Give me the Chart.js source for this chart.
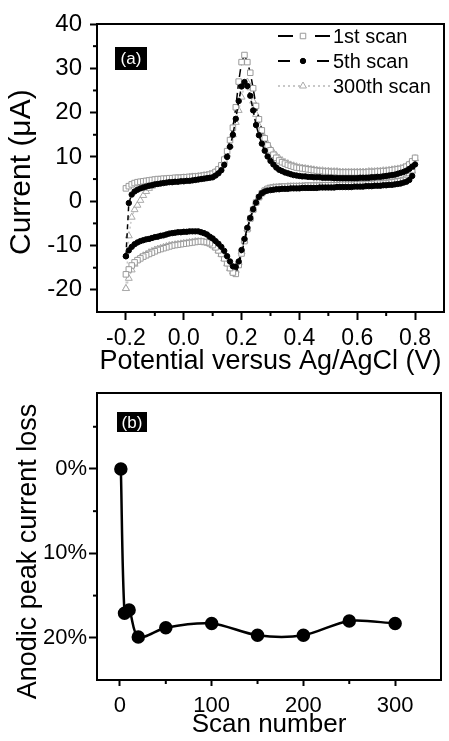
<!DOCTYPE html>
<html>
<head>
<meta charset="utf-8">
<title>CV stability</title>
<script src="https://cdn.jsdelivr.net/npm/chart.js@4.4.1/dist/chart.umd.min.js"></script>
<style>
  html, body { margin: 0; padding: 0; background: #fff; }
  #wrapA { position: absolute; left: 0; top: 0; width: 449px; height: 380px; }
  #wrapB { position: absolute; left: 0; top: 380px; width: 449px; height: 361px; }
</style>
</head>
<body>
<div id="wrapA"><canvas id="cvChart" width="449" height="380"></canvas></div>
<div id="wrapB"><canvas id="lossChart" width="449" height="361"></canvas></div>
<script>
/* panel (a): cyclic voltammograms, potential in V, current in uA */
const potential = [
  -0.20, -0.19, -0.18, -0.17, -0.16, -0.15, -0.14, -0.13, -0.12, -0.11,
  -0.10, -0.09, -0.08, -0.07, -0.06, -0.05, -0.04, -0.03, -0.02, -0.01,
   0.00,  0.01,  0.02,  0.03,  0.04,  0.05,  0.06,  0.07,  0.08,  0.09,
   0.10,  0.11,  0.12,  0.13,  0.14,  0.15,  0.16,  0.17,  0.18,  0.19,
   0.20,  0.21,  0.22,  0.23,  0.24,  0.25,  0.26,  0.27,  0.28,  0.29,
   0.30,  0.31,  0.32,  0.33,  0.34,  0.35,  0.36,  0.37,  0.38,  0.39,
   0.40,  0.41,  0.42,  0.43,  0.44,  0.45,  0.46,  0.47,  0.48,  0.49,
   0.50,  0.51,  0.52,  0.53,  0.54,  0.55,  0.56,  0.57,  0.58,  0.59,
   0.60,  0.61,  0.62,  0.63,  0.64,  0.65,  0.66,  0.67,  0.68,  0.69,
   0.70,  0.71,  0.72,  0.73,  0.74,  0.75,  0.76,  0.77,  0.78,  0.79,
   0.80
];

// forward (anodic) sweep, same order as potential
const scan1Anodic = [
  2.9, 3.4, 3.8, 4.1, 4.3, 4.4, 4.5, 4.6, 4.7, 4.8,
  4.9, 5.0, 5.0, 5.1, 5.1, 5.2, 5.2, 5.3, 5.3, 5.3,
  5.4, 5.4, 5.5, 5.5, 5.6, 5.6, 5.7, 5.8, 5.9, 6.0,
  6.2, 6.6, 7.2, 8.1, 9.4, 11.3, 13.8, 16.6, 21.2, 27.0,
  31.4, 33.0, 31.4, 29.0, 25.5, 21.5, 18.5, 16.0, 14.2, 12.6,
  11.5, 10.5, 9.8, 9.2, 8.8, 8.5, 8.2, 8.0, 7.8, 7.6,
  7.5, 7.4, 7.3, 7.2, 7.1, 7.0, 6.9, 6.8, 6.8, 6.7,
  6.7, 6.6, 6.6, 6.6, 6.5, 6.5, 6.5, 6.5, 6.5, 6.5,
  6.5, 6.5, 6.5, 6.5, 6.6, 6.6, 6.6, 6.7, 6.7, 6.8,
  6.8, 6.9, 7.0, 7.1, 7.2, 7.3, 7.5, 7.8, 8.3, 9.0,
  9.8
];
const scan5Anodic = [
  -12.4, -0.4, 1.5, 2.2, 2.6, 2.9, 3.1, 3.3, 3.5, 3.6,
  3.8, 3.9, 4.0, 4.1, 4.2, 4.3, 4.3, 4.4, 4.4, 4.5,
  4.5, 4.6, 4.6, 4.7, 4.8, 4.9, 5.0, 5.1, 5.2, 5.3,
  5.4, 5.8, 6.3, 7.0, 8.2, 10.0, 12.3, 15.0, 18.6, 22.6,
  25.9, 26.9, 26.0, 23.8, 20.5, 17.2, 14.9, 13.0, 11.4, 10.1,
  9.1, 8.3, 7.6, 7.1, 6.8, 6.5, 6.3, 6.1, 5.9, 5.8,
  5.7, 5.6, 5.6, 5.5, 5.5, 5.4, 5.4, 5.4, 5.3, 5.3,
  5.3, 5.3, 5.2, 5.2, 5.2, 5.2, 5.2, 5.2, 5.2, 5.2,
  5.2, 5.3, 5.3, 5.3, 5.3, 5.4, 5.4, 5.5, 5.5, 5.6,
  5.7, 5.8, 5.9, 6.0, 6.2, 6.4, 6.6, 6.9, 7.3, 7.8,
  8.3
];
const scan300Anodic = [
  -19.7, -7.8, -3.6, -1.9, -0.9, 0.2, 1.3, 2.2, 2.9, 3.4,
  3.8, 4.1, 4.3, 4.5, 4.7, 4.8, 4.9, 5.0, 5.1, 5.2,
  5.3, 5.3, 5.4, 5.5, 5.5, 5.6, 5.7, 5.8, 5.9, 6.1,
  6.3, 6.7, 7.2, 7.9, 9.0, 10.6, 12.6, 15.0, 17.8, 20.5,
  23.5, 26.2, 26.9, 25.6, 22.6, 19.6, 17.0, 15.5, 14.0, 12.8,
  11.8, 11.0, 10.3, 9.7, 9.2, 8.8, 8.5, 8.2, 8.0, 7.8,
  7.6, 7.5, 7.4, 7.3, 7.2, 7.1, 7.0, 6.9, 6.9, 6.8,
  6.8, 6.7, 6.7, 6.7, 6.6, 6.6, 6.6, 6.6, 6.6, 6.6,
  6.6, 6.6, 6.6, 6.6, 6.7, 6.7, 6.7, 6.8, 6.8, 6.9,
  6.9, 7.0, 7.1, 7.2, 7.3, 7.4, 7.6, 7.9, 8.3, 8.9,
  9.6
];

// reverse (cathodic) sweep, also listed in the order of potential
const scan1Cathodic = [
  -16.5, -15.4, -14.5, -13.8, -13.3, -12.9, -12.5, -12.2, -11.9, -11.6,
  -11.3, -11.0, -10.8, -10.6, -10.4, -10.2, -10.0, -9.9, -9.8, -9.7,
  -9.6, -9.5, -9.4, -9.3, -9.2, -9.1, -9.1, -9.2, -9.3, -9.5,
  -9.9, -10.4, -11.1, -11.9, -12.9, -14.0, -15.1, -16.1, -16.4, -14.4,
  -11.8, -9.0, -6.3, -3.9, -1.9, -0.3, 0.9, 1.8, 2.4, 2.8,
  3.0, 3.1, 3.2, 3.2, 3.3, 3.3, 3.3, 3.4, 3.4, 3.4,
  3.4, 3.4, 3.5, 3.5, 3.5, 3.5, 3.5, 3.5, 3.6, 3.6,
  3.6, 3.6, 3.6, 3.6, 3.7, 3.7, 3.7, 3.7, 3.7, 3.8,
  3.8, 3.8, 3.8, 3.9, 3.9, 3.9, 4.0, 4.0, 4.0, 4.1,
  4.1, 4.2, 4.3, 4.4, 4.5, 4.6, 4.8, 5.1, 5.7, 7.0,
  9.8
];
const scan5Cathodic = [
  -12.4, -11.1, -10.3, -9.7, -9.3, -9.0, -8.8, -8.6, -8.5, -8.3,
  -8.1, -8.0, -7.8, -7.7, -7.5, -7.3, -7.2, -7.1, -7.0, -7.0,
  -6.9, -6.9, -6.8, -6.8, -6.8, -6.8, -7.0, -7.2, -7.5, -8.0,
  -8.4, -9.0, -9.6, -10.3, -11.2, -12.4, -13.6, -14.7, -14.8, -13.6,
  -11.0, -8.5, -6.0, -3.8, -1.8, -0.3, 1.0, 1.8, 2.2, 2.4,
  2.5, 2.6, 2.7, 2.7, 2.8, 2.8, 2.8, 2.9, 2.9, 2.9,
  2.9, 3.0, 3.0, 3.0, 3.0, 3.0, 3.0, 3.1, 3.1, 3.1,
  3.1, 3.1, 3.1, 3.2, 3.2, 3.2, 3.2, 3.2, 3.2, 3.3,
  3.3, 3.3, 3.3, 3.4, 3.4, 3.4, 3.5, 3.5, 3.5, 3.6,
  3.6, 3.7, 3.7, 3.8, 3.9, 4.0, 4.2, 4.4, 4.8, 5.7,
  8.3
];
const scan300Cathodic = [
  -19.7, -17.4, -15.5, -14.2, -13.3, -12.7, -12.3, -12.0, -11.6, -11.3,
  -11.0, -10.8, -10.6, -10.4, -10.2, -10.0, -9.9, -9.8, -9.7, -9.6,
  -9.5, -9.4, -9.3, -9.2, -9.1, -9.1, -9.1, -9.2, -9.3, -9.6,
  -10.0, -10.5, -11.2, -12.0, -13.0, -14.1, -15.2, -15.9, -15.6, -13.8,
  -11.4, -8.8, -6.2, -3.8, -1.8, -0.2, 1.0, 1.9, 2.5, 2.8,
  3.0, 3.1, 3.1, 3.2, 3.2, 3.2, 3.3, 3.3, 3.3, 3.3,
  3.4, 3.4, 3.4, 3.4, 3.4, 3.5, 3.5, 3.5, 3.5, 3.5,
  3.5, 3.6, 3.6, 3.6, 3.6, 3.6, 3.7, 3.7, 3.7, 3.7,
  3.7, 3.8, 3.8, 3.8, 3.8, 3.9, 3.9, 3.9, 4.0, 4.0,
  4.1, 4.1, 4.2, 4.3, 4.4, 4.5, 4.7, 5.0, 5.6, 6.8,
  9.6
];

const cvXTicks = [-0.2, 0, 0.2, 0.4, 0.6, 0.8];
const cvXMinor = [-0.1, 0.1, 0.3, 0.5, 0.7];
const cvYTicks = [-20, -10, 0, 10, 20, 30, 40];
const cvYMinor = [-15, -5, 5, 15, 25, 35];

/* panel (b): anodic peak current loss (%) vs scan number */
const scanNumber = [1, 5, 10, 20, 50, 100, 150, 200, 250, 300];
const peakLoss = [0, 17.1, 16.7, 19.9, 18.8, 18.3, 19.7, 19.7, 18.0, 18.3];
const lossXTicks = [0, 100, 200, 300];
const lossXMinor = [50, 150, 250];
const lossYTicks = [0, 10, 20];
const lossYMinor = [-5, 5, 15];

const FONT = "'Liberation Sans', Arial, Helvetica, sans-serif";
Chart.defaults.font.family = FONT;
Chart.defaults.color = '#000';

function cvLoop(anodic, cathodic) {
  const fwd = potential.map((v, i) => ({ x: v, y: anodic[i] }));
  const rev = potential.map((v, i) => ({ x: v, y: cathodic[i] })).reverse();
  return fwd.concat(rev.slice(1));
}

function drawMarker(ctx, style, x, y, r, fill, stroke, lw) {
  ctx.beginPath();
  if (style === 'rect') {
    const s = r * Math.SQRT1_2;
    ctx.rect(x - s, y - s, 2 * s, 2 * s);
  } else if (style === 'triangle') {
    let a = 0;
    ctx.moveTo(x + Math.sin(a) * r, y - Math.cos(a) * r);
    a += Math.PI * 2 / 3;
    ctx.lineTo(x + Math.sin(a) * r, y - Math.cos(a) * r);
    a += Math.PI * 2 / 3;
    ctx.lineTo(x + Math.sin(a) * r, y - Math.cos(a) * r);
    ctx.closePath();
  } else {
    ctx.arc(x, y, r, 0, Math.PI * 2);
  }
  ctx.fillStyle = fill;
  ctx.fill();
  ctx.lineWidth = lw;
  ctx.strokeStyle = stroke;
  ctx.stroke();
}

// box round the plot area
const frame = {
  id: 'frame',
  afterDatasetsDraw(chart) {
    const { ctx, chartArea: a } = chart;
    ctx.save();
    ctx.lineWidth = 2;
    ctx.strokeStyle = '#000';
    ctx.strokeRect(a.left, a.top, a.right - a.left, a.bottom - a.top);
    ctx.restore();
  }
};

// short unlabeled ticks between the major ones
const minorTicks = {
  id: 'minorTicks',
  afterDraw(chart, args, opts) {
    const { ctx, chartArea: a } = chart;
    ctx.save();
    ctx.lineWidth = 2;
    ctx.strokeStyle = '#000';
    (opts.x || []).forEach(v => {
      const px = chart.scales.x.getPixelForValue(v);
      ctx.beginPath(); ctx.moveTo(px, a.bottom); ctx.lineTo(px, a.bottom + opts.len); ctx.stroke();
    });
    (opts.y || []).forEach(v => {
      const py = chart.scales.y.getPixelForValue(v);
      ctx.beginPath(); ctx.moveTo(a.left, py); ctx.lineTo(a.left - opts.len, py); ctx.stroke();
    });
    ctx.restore();
  }
};

// black "(a)" / "(b)" tag
const panelTag = {
  id: 'panelTag',
  afterDraw(chart, args, o) {
    const { ctx, chartArea: a } = chart;
    ctx.save();
    ctx.fillStyle = '#000';
    ctx.fillRect(a.left + o.dx, a.top + o.dy, o.w, o.h);
    ctx.fillStyle = '#fff';
    ctx.font = '17px ' + FONT;
    ctx.textAlign = 'center';
    ctx.textBaseline = 'middle';
    ctx.fillText(o.text, a.left + o.dx + o.w / 2, a.top + o.dy + o.h / 2 + 1);
    ctx.restore();
  }
};

// line + symbol legend, drawn inside the plot
const scanLegend = {
  id: 'scanLegend',
  afterDraw(chart, args, o) {
    const { ctx } = chart;
    ctx.save();
    o.rows.forEach((row, i) => {
      const ds = chart.data.datasets[row.dataset];
      const y = o.y0 + i * o.dy;
      ctx.beginPath();
      ctx.setLineDash(row.dash);
      ctx.lineWidth = row.lineWidth;
      ctx.strokeStyle = row.lineColor;
      ctx.moveTo(o.x0, y);
      ctx.lineTo(o.x1, y);
      ctx.stroke();
      ctx.setLineDash([]);
      drawMarker(ctx, ds.pointStyle, o.mx, y, ds.pointRadius,
                 ds.pointBackgroundColor, ds.pointBorderColor, ds.pointBorderWidth);
      ctx.fillStyle = '#000';
      ctx.font = '20px ' + FONT;
      ctx.textAlign = 'left';
      ctx.textBaseline = 'middle';
      ctx.fillText(ds.label, o.tx, y + 1);
    });
    ctx.restore();
  }
};

const cvChart = new Chart(document.getElementById('cvChart'), {
  type: 'scatter',
  data: {
    datasets: [
      {
        label: '1st scan', data: cvLoop(scan1Anodic, scan1Cathodic), showLine: true,
        borderColor: '#000', borderWidth: 1.5, borderDash: [8, 4],
        pointStyle: 'rect', pointRadius: 3.9, pointBorderWidth: 1,
        pointBackgroundColor: '#fff', pointBorderColor: '#9a9a9a', order: 1
      },
      {
        label: '5th scan', data: cvLoop(scan5Anodic, scan5Cathodic), showLine: true,
        borderColor: '#000', borderWidth: 1.5, borderDash: [5, 4],
        pointStyle: 'circle', pointRadius: 2.7, pointBorderWidth: 1,
        pointBackgroundColor: '#000', pointBorderColor: '#000', order: 0
      },
      {
        label: '300th scan', data: cvLoop(scan300Anodic, scan300Cathodic), showLine: true,
        borderColor: '#c8c8c8', borderWidth: 1.5, borderDash: [2, 3],
        pointStyle: 'triangle', pointRadius: 4, pointBorderWidth: 1,
        pointBackgroundColor: '#fff', pointBorderColor: '#aaaaaa', order: 2
      }
    ]
  },
  options: {
    responsive: false,
    animation: false,
    events: [],
    layout: { padding: { top: 24, right: 3, left: 0, bottom: 0 } },
    plugins: {
      legend: { display: false },
      tooltip: { enabled: false },
      minorTicks: { x: cvXMinor, y: cvYMinor, len: 4 },
      panelTag: { text: '(a)', dx: 18, dy: 23, w: 32, h: 23 },
      scanLegend: {
        x0: 278, x1: 330, mx: 303, tx: 333, y0: 36, dy: 25,
        rows: [
          { dataset: 0, dash: [15, 22], lineColor: '#000', lineWidth: 2 },
          { dataset: 1, dash: [12, 27], lineColor: '#000', lineWidth: 2 },
          { dataset: 2, dash: [2, 3], lineColor: '#c8c8c8', lineWidth: 2 }
        ]
      }
    },
    scales: {
      x: {
        type: 'linear', min: -0.3, max: 0.9,
        afterBuildTicks: s => { s.ticks = cvXTicks.map(v => ({ value: v })); },
        afterFit: s => { s.height = 68; s.paddingLeft = 0; s.paddingRight = 0; },
        ticks: { callback: v => v.toFixed(1), font: { size: 23 }, color: '#000', padding: 5, maxRotation: 0, autoSkip: false },
        grid: { drawOnChartArea: false, tickLength: 8, tickWidth: 2, tickColor: '#000' },
        border: { display: false },
        title: { display: true, text: 'Potential versus Ag/AgCl (V)', color: '#000',
                 font: { size: 27, lineHeight: 1 }, padding: { top: 0, bottom: 5 } }
      },
      y: {
        type: 'linear', min: -25, max: 40,
        afterBuildTicks: s => { s.ticks = cvYTicks.map(v => ({ value: v })); },
        afterFit: s => { s.width = 97; s.paddingTop = 0; s.paddingBottom = 0; },
        ticks: { callback: v => String(v), font: { size: 24 }, color: '#000', padding: 8, autoSkip: false },
        grid: { drawOnChartArea: false, tickLength: 7, tickWidth: 2, tickColor: '#000' },
        border: { display: false },
        title: { display: true, text: 'Current (\u03bcA) ', color: '#000',
                 font: { size: 30, lineHeight: 1 }, padding: { top: 7, bottom: 0 } }
      }
    }
  },
  plugins: [frame, minorTicks, panelTag, scanLegend]
});

const lossChart = new Chart(document.getElementById('lossChart'), {
  type: 'line',
  data: {
    datasets: [{
      label: 'Anodic peak current loss',
      data: scanNumber.map((n, i) => ({ x: n, y: peakLoss[i] })),
      borderColor: '#000', borderWidth: 2.5, tension: 0.3,
      pointStyle: 'circle', pointRadius: 5.5,
      pointBackgroundColor: '#000', pointBorderColor: '#000'
    }]
  },
  options: {
    responsive: false,
    animation: false,
    events: [],
    layout: { padding: { top: 13, right: 3, left: 0, bottom: 0 } },
    plugins: {
      legend: { display: false },
      tooltip: { enabled: false },
      minorTicks: { x: lossXMinor, y: lossYMinor, len: 4 },
      panelTag: { text: '(b)', dx: 20, dy: 19, w: 30, h: 20 }
    },
    scales: {
      x: {
        type: 'linear', min: -25, max: 350,
        afterBuildTicks: s => { s.ticks = lossXTicks.map(v => ({ value: v })); },
        afterFit: s => { s.height = 61; s.paddingLeft = 0; s.paddingRight = 0; },
        ticks: { callback: v => String(v), font: { size: 22 }, color: '#000', padding: 7, maxRotation: 0, autoSkip: false },
        grid: { drawOnChartArea: false, tickLength: 6, tickWidth: 2, tickColor: '#000' },
        border: { display: false },
        title: { display: true, text: 'Scan number', color: '#000',
                 font: { size: 26, lineHeight: 1 }, padding: { top: 0, bottom: 3 } }
      },
      y: {
        type: 'linear', min: -9, max: 25, reverse: true,
        afterBuildTicks: s => { s.ticks = lossYTicks.map(v => ({ value: v })); },
        afterFit: s => { s.width = 97; s.paddingTop = 0; s.paddingBottom = 0; },
        ticks: { callback: v => v + '%', font: { size: 22 }, color: '#000', padding: 2, autoSkip: false },
        grid: { drawOnChartArea: false, tickLength: 8, tickWidth: 2, tickColor: '#000' },
        border: { display: false },
        title: { display: true, text: 'Anodic peak current loss    ', color: '#000',
                 font: { size: 27, lineHeight: 1 }, padding: { top: 15, bottom: 0 } }
      }
    }
  },
  plugins: [frame, minorTicks, panelTag]
});
</script>
</body>
</html>
